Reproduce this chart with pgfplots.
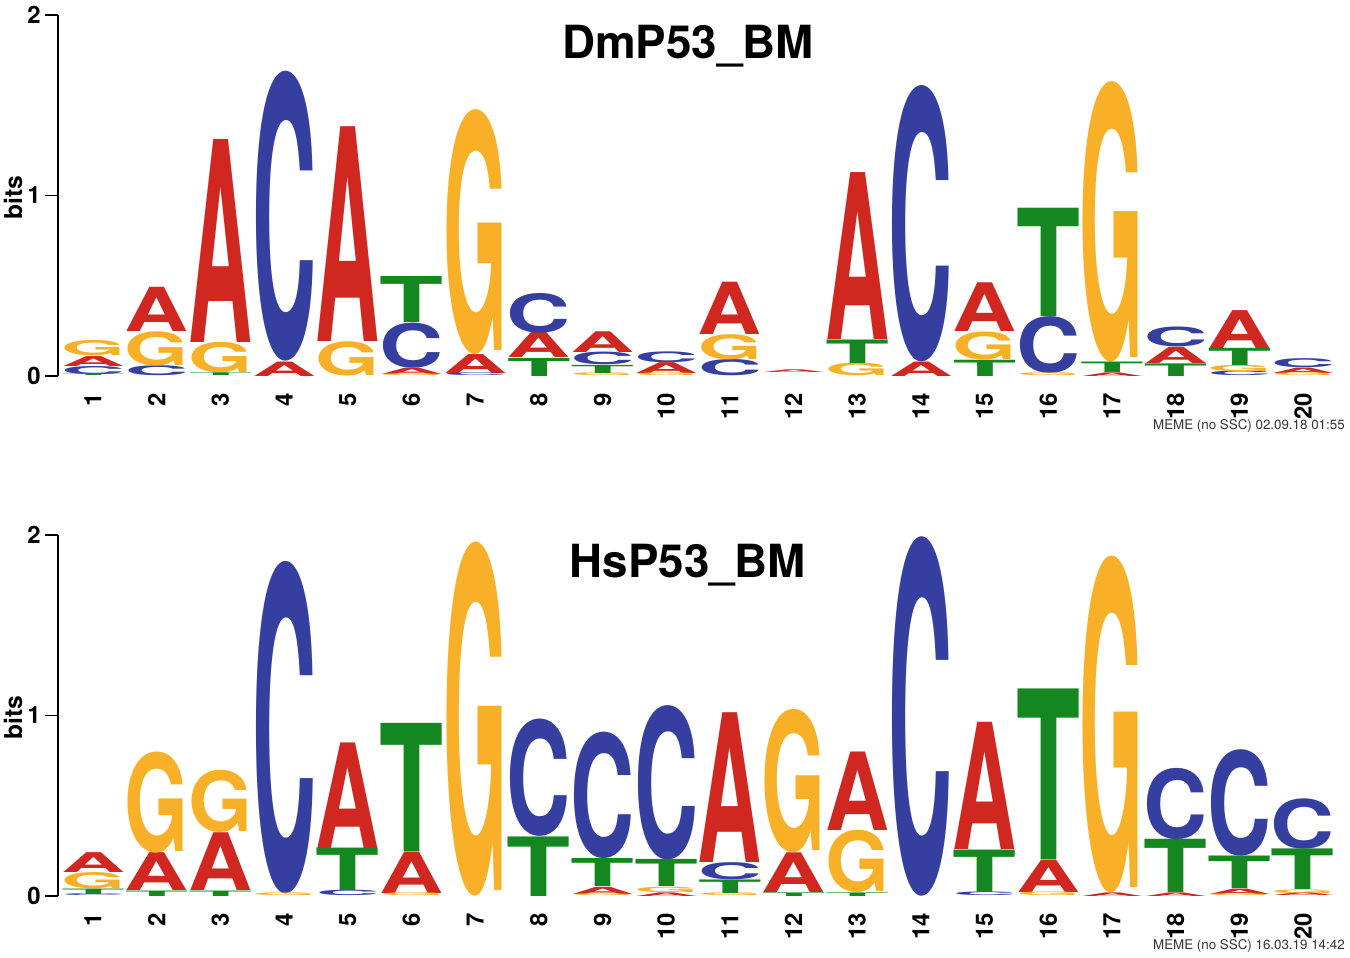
\documentclass[border=0pt]{standalone}
\usepackage{pgfplots}
\pgfplotsset{compat=1.18}
\usepackage{fontspec}
\setmainfont{TeX Gyre Heros}
\usepackage{graphicx}
\definecolor{cA}{RGB}{208,40,32}
\definecolor{cC}{RGB}{52,63,160}
\definecolor{cG}{RGB}{247,176,39}
\definecolor{cT}{RGB}{20,135,32}
\newlength\bitlen \setlength\bitlen{1.805cm}
\newlength\lw \setlength\lw{0.64cm}
\pgfplotsset{
  logo/.style 2 args={only marks, mark=none,
    visualization depends on={value \thisrow{h}\as\hh},
    nodes near coords={\resizebox*{\lw}{\hh\bitlen}{\bfseries #1}},
    every node near coord/.append style={anchor=south, inner sep=0pt, outer sep=0pt, text=#2}},
  logoaxis/.style={scale only axis, width=12.8cm, height=3.61cm,
    xmin=0.45, xmax=20.55, ymin=0, ymax=2, clip=false,
    axis y line*=left, axis x line*=bottom,
    x axis line style={draw=none},
    xtick={1,...,20}, ytick={0,1,2},
    xtick style={draw=none},
    tick align=outside, major tick length=0.13cm,
    ytick style={line width=0.5pt, black},
    y axis line style={line width=0.5pt},
    xticklabel style={rotate=90, anchor=east, font=\bfseries\fontsize{6.8}{7}\selectfont, inner sep=1pt},
    yticklabel style={font=\bfseries\fontsize{6.8}{7}\selectfont, inner sep=1pt},
    ylabel={bits},
    ylabel style={at={(rel axis cs:-0.035,0.495)}, anchor=center, font=\bfseries\fontsize{7}{8}\selectfont},
    /pgf/number format/assume math mode=true},
}
\begin{document}
\begin{tikzpicture}
\path[use as bounding box] (-0.58,-5.81) rectangle (12.92,3.76);
% ---------------- DmP53_BM ----------------
\begin{axis}[logoaxis, at={(0,0)}, anchor=south west]
\addplot[logo={A}{cA}] table[x=x,y=b,row sep=\\]{
x b h\\
1 0.055 0.055\\
2 0.245 0.245\\
3 0.185 1.125\\
4 0 0.08\\
5 0.19 1.19\\
6 0.01 0.035\\
7 0.015 0.105\\
8 0.10 0.14\\
9 0.13 0.115\\
10 0.015 0.06\\
11 0.23 0.29\\
12 0.02 0.015\\
13 0.2 0.925\\
14 0 0.08\\
15 0.245 0.27\\
17 0 0.02\\
18 0.07 0.09\\
19 0.155 0.21\\
20 0.015 0.03\\
};
\addplot[logo={C}{cC}] table[x=x,y=b,row sep=\\]{
x b h\\
1 0.01 0.045\\
2 0 0.055\\
4 0.08 1.605\\
6 0.045 0.25\\
7 0 0.015\\
8 0.24 0.22\\
9 0.06 0.07\\
10 0.075 0.06\\
11 0 0.09\\
14 0.08 1.53\\
16 0.015 0.315\\
18 0.16 0.11\\
19 0 0.025\\
20 0.045 0.05\\
};
\addplot[logo={G}{cG}] table[x=x,y=b,row sep=\\]{
x b h\\
1 0.11 0.085\\
2 0.055 0.19\\
3 0.015 0.17\\
5 0 0.19\\
6 0 0.01\\
7 0.12 1.355\\
9 0 0.015\\
10 0 0.015\\
11 0.09 0.14\\
13 0 0.07\\
15 0.09 0.155\\
16 0 0.015\\
17 0.078 1.552\\
19 0.025 0.035\\
20 0 0.015\\
};
\addplot[logo={T}{cT}] table[x=x,y=b,row sep=\\]{
x b h\\
1 0 0.01\\
3 0 0.015\\
6 0.295 0.255\\
8 0 0.1\\
9 0.015 0.045\\
13 0.07 0.13\\
15 0 0.09\\
16 0.33 0.6\\
17 0.02 0.058\\
18 0 0.07\\
19 0.06 0.095\\
};
\node[anchor=base, font=\bfseries\fontsize{13}{14}\selectfont] at (axis cs:10.34,1.76) {DmP53\_BM};
\node[anchor=base east, font=\fontsize{3.8}{4}\selectfont, text=black!80] at (axis cs:20.85,-0.294) {MEME (no SSC) 02.09.18 01:55};
\end{axis}
% ---------------- HsP53_BM ----------------
\begin{axis}[logoaxis, at={(0,-5.2cm)}, anchor=south west]
\addplot[logo={A}{cA}] table[x=x,y=b,row sep=\\]{
x b h\\
1 0.13 0.11\\
2 0.03 0.21\\
3 0.03 0.32\\
5 0.265 0.585\\
6 0.015 0.23\\
9 0.01 0.04\\
10 0 0.02\\
11 0.185 0.83\\
12 0.02 0.22\\
13 0.365 0.435\\
15 0.255 0.705\\
16 0.02 0.18\\
17 0 0.02\\
18 0 0.02\\
19 0.01 0.03\\
20 0 0.015\\
};
\addplot[logo={C}{cC}] table[x=x,y=b,row sep=\\]{
x b h\\
1 0 0.01\\
4 0.015 1.84\\
5 0 0.03\\
8 0.33 0.65\\
9 0.205 0.7\\
10 0.2 0.855\\
11 0.09 0.095\\
14 0 1.99\\
15 0 0.02\\
18 0.315 0.395\\
19 0.22 0.59\\
20 0.26 0.28\\
};
\addplot[logo={G}{cG}] table[x=x,y=b,row sep=\\]{
x b h\\
1 0.04 0.09\\
2 0.24 0.56\\
3 0.35 0.345\\
4 0 0.015\\
6 0 0.015\\
7 0 1.96\\
9 0 0.01\\
10 0.02 0.03\\
11 0 0.015\\
12 0.24 0.795\\
13 0.02 0.345\\
16 0 0.02\\
17 0.02 1.865\\
19 0 0.01\\
20 0.015 0.02\\
};
\addplot[logo={T}{cT}] table[x=x,y=b,row sep=\\]{
x b h\\
1 0.01 0.03\\
2 0 0.03\\
3 0 0.03\\
5 0.03 0.235\\
6 0.245 0.71\\
8 0 0.33\\
9 0.05 0.155\\
10 0.05 0.15\\
11 0.015 0.075\\
12 0 0.02\\
13 0 0.02\\
15 0.02 0.235\\
16 0.2 0.945\\
18 0.02 0.295\\
19 0.04 0.18\\
20 0.035 0.225\\
};
\node[anchor=base, font=\bfseries\fontsize{13}{14}\selectfont] at (axis cs:10.34,1.767) {HsP53\_BM};
\node[anchor=base east, font=\fontsize{3.8}{4}\selectfont, text=black!80] at (axis cs:20.85,-0.294) {MEME (no SSC) 16.03.19 14:42};
\end{axis}
\end{tikzpicture}
\end{document}
